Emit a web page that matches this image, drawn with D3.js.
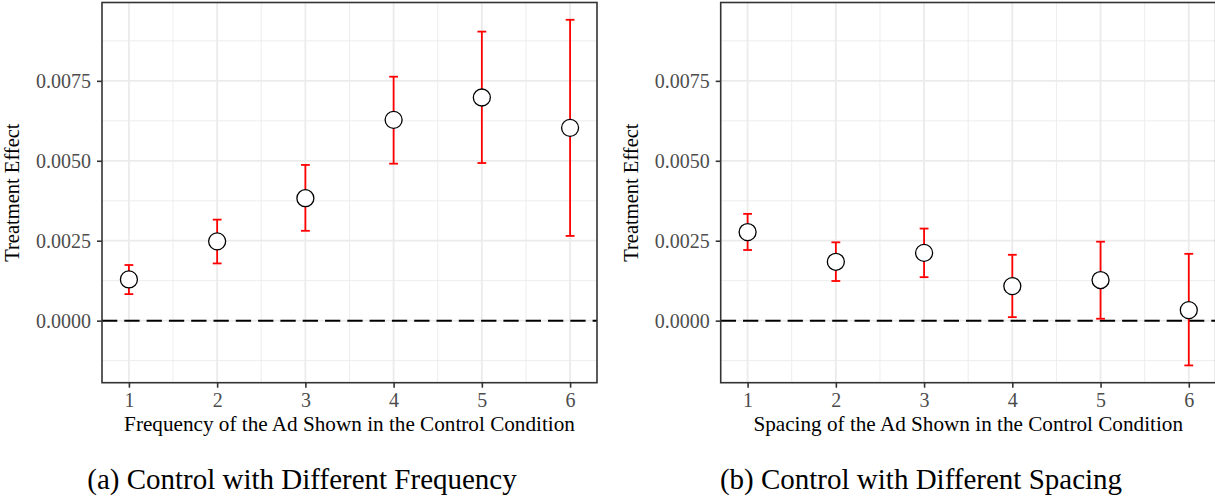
<!DOCTYPE html>
<html>
<head>
<meta charset="utf-8">
<script src="https://cdn.jsdelivr.net/npm/d3@7"></script>
<style>
  body { margin: 0; background: #fff; }
  svg text { font-family: "Liberation Serif", "Times New Roman", serif; }
</style>
</head>
<body>
<div id="chart"></div>
<script>
// data
let x_values = [1, 2, 3, 4, 5, 6];

let freq_est  = [0.00129, 0.00248, 0.00383, 0.00628, 0.00698, 0.00603];
let freq_low  = [0.00083, 0.00179, 0.00281, 0.00491, 0.00493, 0.00265];
let freq_high = [0.00174, 0.00316, 0.00487, 0.00763, 0.00904, 0.00941];

let spacing_est  = [0.00277, 0.00184, 0.00212, 0.00108, 0.00127, 0.00033];
let spacing_low  = [0.00221, 0.00124, 0.00136, 0.00011, 0.00006, -0.00140];
let spacing_high = [0.00334, 0.00245, 0.00288, 0.00206, 0.00247, 0.00209];

let y_ticks = [0, 0.0025, 0.005, 0.0075];
let y_minor = [-0.00125, 0.00125, 0.00375, 0.00625, 0.00875];
let x_minor = [1.5, 2.5, 3.5, 4.5, 5.5];

let y_title = "Treatment Effect";
let x_titles = ["Frequency of the Ad Shown in the Control Condition",
                "Spacing of the Ad Shown in the Control Condition"];
let captions = ["(a) Control with Different Frequency",
                "(b) Control with Different Spacing"];

let width = 1215;
let height = 501;
let panel_top = 2.5;
let panel_bottom = 382.7;
let panel_w = 495;
let serif = "'Liberation Serif', 'Times New Roman', serif";

let svg = d3.select("#chart").append("svg")
    .attr("width", width)
    .attr("height", height);

// shared y range, 5% expansion like ggplot
let all_low = d3.min(freq_low.concat(spacing_low));
let all_high = d3.max(freq_high.concat(spacing_high));
let pad = (all_high - all_low) * 0.05;
let y = d3.scaleLinear()
    .domain([all_low - pad, all_high + pad])
    .range([panel_bottom, panel_top]);

function rows(est, low, high) {
    return x_values.map((v, i) => ({x: v, est: est[i], low: low[i], high: high[i]}));
}

function draw_panel(left, data, x_title, caption, caption_x) {
    let x = d3.scaleLinear()
        .domain([0.695, 6.305])
        .range([left, left + panel_w]);
    let g = svg.append("g");

    // grid
    g.selectAll(".minx").data(x_minor).enter().append("line")
        .attr("x1", d => x(d)).attr("x2", d => x(d))
        .attr("y1", panel_top).attr("y2", panel_bottom)
        .attr("stroke", "#ebebeb").attr("stroke-width", 0.9);
    g.selectAll(".miny").data(y_minor).enter().append("line")
        .attr("x1", left).attr("x2", left + panel_w)
        .attr("y1", d => y(d)).attr("y2", d => y(d))
        .attr("stroke", "#ebebeb").attr("stroke-width", 0.9);
    g.selectAll(".majx").data(x_values).enter().append("line")
        .attr("x1", d => x(d)).attr("x2", d => x(d))
        .attr("y1", panel_top).attr("y2", panel_bottom)
        .attr("stroke", "#ebebeb").attr("stroke-width", 1.8);
    g.selectAll(".majy").data(y_ticks).enter().append("line")
        .attr("x1", left).attr("x2", left + panel_w)
        .attr("y1", d => y(d)).attr("y2", d => y(d))
        .attr("stroke", "#ebebeb").attr("stroke-width", 1.8);

    // zero line
    g.append("line")
        .attr("x1", left).attr("x2", left + panel_w)
        .attr("y1", y(0)).attr("y2", y(0))
        .attr("stroke", "#000").attr("stroke-width", 2)
        .attr("stroke-dasharray", "15.3,7");

    // error bars
    let cap = (x(1.05) - x(0.95)) / 2;
    let bars = g.selectAll(".bar").data(data).enter().append("g");
    bars.append("line")
        .attr("x1", d => x(d.x)).attr("x2", d => x(d.x))
        .attr("y1", d => y(d.low)).attr("y2", d => y(d.high));
    bars.append("line")
        .attr("x1", d => x(d.x) - cap).attr("x2", d => x(d.x) + cap)
        .attr("y1", d => y(d.low)).attr("y2", d => y(d.low));
    bars.append("line")
        .attr("x1", d => x(d.x) - cap).attr("x2", d => x(d.x) + cap)
        .attr("y1", d => y(d.high)).attr("y2", d => y(d.high));
    bars.selectAll("line").attr("stroke", "#ff0000").attr("stroke-width", 1.8);

    // points
    g.selectAll(".pt").data(data).enter().append("circle")
        .attr("cx", d => x(d.x)).attr("cy", d => y(d.est))
        .attr("r", 8.5)
        .attr("fill", "#fff").attr("stroke", "#000").attr("stroke-width", 1.3);

    // border
    g.append("rect")
        .attr("x", left).attr("y", panel_top)
        .attr("width", panel_w).attr("height", panel_bottom - panel_top)
        .attr("fill", "none").attr("stroke", "#333").attr("stroke-width", 1.6);

    // axes
    let ya = g.append("g")
        .attr("transform", "translate(" + left + ",0)")
        .call(d3.axisLeft(y).tickValues(y_ticks).tickFormat(d3.format(".4f")).tickSize(5).tickPadding(6));
    let xa = g.append("g")
        .attr("transform", "translate(0," + panel_bottom + ")")
        .call(d3.axisBottom(x).tickValues(x_values).tickFormat(d3.format("d")).tickSize(5).tickPadding(5));
    [ya, xa].forEach(a => {
        a.select(".domain").remove();
        a.attr("font-family", serif);
        a.selectAll(".tick line").attr("stroke", "#333").attr("stroke-width", 1.6);
        a.selectAll(".tick text").attr("fill", "#4d4d4d")
            .style("font-size", "20px")
            .style("font-family", serif);
    });

    // titles
    g.append("text")
        .attr("transform", "translate(" + (left - 83) + "," + ((panel_top + panel_bottom) / 2) + ") rotate(-90)")
        .attr("text-anchor", "middle")
        .style("font-family", serif)
        .style("font-size", "20.5px")
        .text(y_title);
    g.append("text")
        .attr("x", left + panel_w / 2).attr("y", 431)
        .attr("text-anchor", "middle")
        .style("font-family", serif)
        .style("font-size", "21.2px")
        .text(x_title);
    g.append("text")
        .attr("x", caption_x).attr("y", 489)
        .attr("text-anchor", "middle")
        .style("font-family", serif)
        .style("font-size", "29px")
        .text(caption);
}

draw_panel(102, rows(freq_est, freq_low, freq_high), x_titles[0], captions[0], 302);
draw_panel(720.7, rows(spacing_est, spacing_low, spacing_high), x_titles[1], captions[1], 921);
</script>
</body>
</html>
